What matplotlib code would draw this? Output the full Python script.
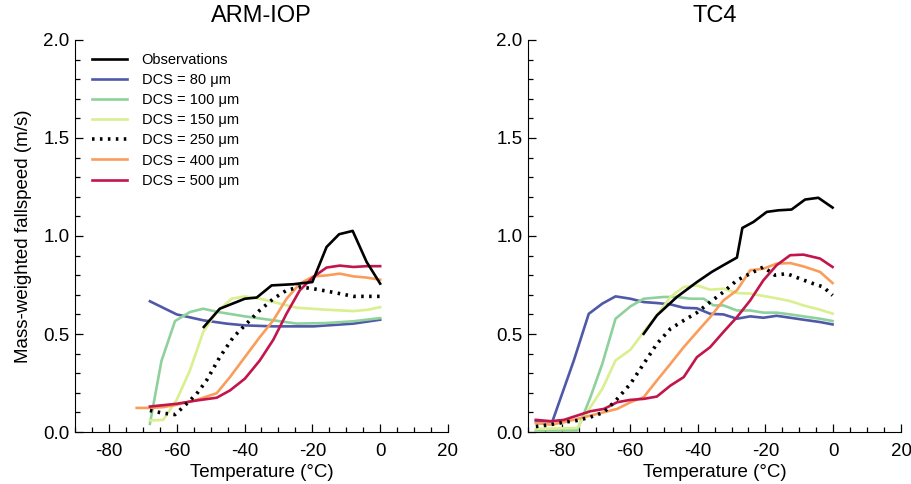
import numpy as np
import matplotlib
matplotlib.use("Agg")
import matplotlib.pyplot as plt
from matplotlib.ticker import MultipleLocator

plt.rcParams['font.family'] = ['Liberation Sans', 'DejaVu Sans']
plt.rcParams['axes.unicode_minus'] = False

# series labels and colours
LABELS = ["Observations", "DCS = 80 \u03bcm", "DCS = 100 \u03bcm", "DCS = 150 \u03bcm",
          "DCS = 250 \u03bcm", "DCS = 400 \u03bcm", "DCS = 500 \u03bcm"]
COLORS = ["#000000", "#5059a8", "#8fd19c", "#d9ef90", "#000000", "#fb9d5a", "#c2154b"]

# ---- ARM-IOP (left panel) ----
arm_obs_t = [-52.0, -47.3, -39.9, -36.4, -32.0, -25.6, -20.0, -15.8, -12.1, -8.1, -4.0, 0.0]
arm_obs_v = [0.536, 0.629, 0.680, 0.686, 0.748, 0.754, 0.765, 0.944, 1.009, 1.026, 0.868, 0.757]

arm_80_t = [-67.9, -60.0, -52.2, -45.3, -39.9, -31.5, -19.7, -7.9, 0.0]
arm_80_v = [0.667, 0.600, 0.570, 0.553, 0.544, 0.539, 0.539, 0.553, 0.573]

arm_100_t = [-67.9, -64.5, -60.5, -56.1, -52.2, -47.7, -39.9, -31.5, -24.6, -15.8, -7.9, 0.0]
arm_100_v = [0.042, 0.362, 0.566, 0.612, 0.629, 0.612, 0.590, 0.570, 0.553, 0.556, 0.565, 0.581]

arm_150_t = [-67.9, -64.0, -60.0, -56.1, -52.2, -48.2, -43.8, -39.9, -35.5, -31.5, -24.6,
             -15.8, -7.9, -3.5, 0.0]
arm_150_v = [0.059, 0.062, 0.164, 0.314, 0.510, 0.612, 0.680, 0.692, 0.680, 0.663, 0.634,
             0.624, 0.617, 0.624, 0.637]

arm_250_t = [-67.9, -64.0, -60.5, -58.1, -54.1, -51.2, -47.3, -43.3, -39.9, -35.5, -31.5,
             -27.6, -23.7, -19.7, -15.8, -11.9, -7.9, 0.0]
arm_250_v = [0.110, 0.096, 0.089, 0.127, 0.195, 0.263, 0.382, 0.484, 0.544, 0.621, 0.680,
             0.723, 0.740, 0.731, 0.719, 0.706, 0.692, 0.692]

arm_400_t = [-71.8, -67.9, -64.0, -60.0, -54.1, -48.2, -44.3, -39.9, -35.5, -31.5, -27.6,
             -23.7, -19.7, -15.8, -11.9, -7.9, -4.0, 0.0]
arm_400_v = [0.123, 0.123, 0.127, 0.139, 0.164, 0.198, 0.280, 0.382, 0.484, 0.570, 0.680,
             0.757, 0.794, 0.799, 0.808, 0.794, 0.788, 0.777]

arm_500_t = [-67.9, -60.0, -54.1, -48.2, -44.3, -39.9, -35.5, -31.5, -27.6, -23.7, -19.7,
             -15.8, -11.9, -7.9, -4.0, 0.0]
arm_500_v = [0.130, 0.144, 0.161, 0.175, 0.212, 0.272, 0.365, 0.471, 0.604, 0.723, 0.791,
             0.839, 0.849, 0.842, 0.846, 0.846]

# ---- TC4 (right panel) ----
tc4_obs_t = [-55.9, -52.0, -46.1, -40.2, -35.8, -32.4, -28.4, -26.8, -23.5, -19.6, -16.2,
             -12.3, -8.3, -4.4, -0.2]
tc4_obs_v = [0.501, 0.595, 0.689, 0.765, 0.817, 0.851, 0.890, 1.041, 1.072, 1.123, 1.131,
             1.135, 1.186, 1.195, 1.145]

tc4_80_t = [-87.7, -82.8, -76.5, -72.1, -68.1, -64.2, -59.8, -55.9, -52.0, -48.0, -44.1,
            -40.2, -36.3, -32.4, -28.4, -24.5, -20.6, -16.7, -12.7, -8.8, -3.9, -0.2]
tc4_80_v = [0.055, 0.055, 0.365, 0.603, 0.655, 0.692, 0.680, 0.663, 0.658, 0.651, 0.634,
            0.631, 0.603, 0.600, 0.578, 0.590, 0.583, 0.593, 0.583, 0.573, 0.561, 0.549]

tc4_100_t = [-87.7, -75.5, -71.6, -68.1, -64.2, -59.8, -55.9, -50.0, -46.1, -42.2, -38.2,
             -35.3, -32.4, -28.4, -24.5, -20.6, -16.7, -12.7, -8.8, -3.9, -0.2]
tc4_100_v = [0.008, 0.008, 0.178, 0.348, 0.578, 0.641, 0.680, 0.689, 0.689, 0.680, 0.680,
             0.646, 0.646, 0.620, 0.620, 0.609, 0.609, 0.600, 0.590, 0.578, 0.566]

tc4_150_t = [-87.7, -75.5, -71.6, -68.1, -64.2, -59.8, -55.9, -52.0, -48.0, -44.1, -40.2,
             -36.3, -32.4, -28.4, -24.5, -20.6, -16.7, -12.7, -8.8, -3.9, -0.2]
tc4_150_v = [0.016, 0.021, 0.127, 0.220, 0.365, 0.420, 0.510, 0.595, 0.689, 0.740, 0.748,
             0.726, 0.731, 0.709, 0.706, 0.694, 0.682, 0.668, 0.646, 0.624, 0.604]

tc4_250_t = [-87.7, -83.3, -79.4, -75.5, -71.6, -67.6, -63.7, -59.8, -55.9, -52.0, -48.0,
             -44.1, -40.2, -36.3, -32.4, -28.4, -24.5, -20.6, -17.2, -13.7, -9.8, -5.9,
             -2.9, -0.2]
tc4_250_v = [0.028, 0.038, 0.050, 0.059, 0.076, 0.101, 0.169, 0.246, 0.348, 0.450, 0.527,
             0.569, 0.609, 0.663, 0.714, 0.774, 0.808, 0.842, 0.800, 0.808, 0.782, 0.757,
             0.740, 0.697]

tc4_400_t = [-87.7, -83.3, -79.4, -75.5, -71.6, -67.6, -63.7, -59.8, -55.9, -52.0, -48.0,
             -44.1, -40.2, -36.3, -32.4, -28.4, -24.5, -20.6, -16.7, -12.7, -8.8, -3.9, -0.2]
tc4_400_v = [0.045, 0.038, 0.050, 0.067, 0.084, 0.101, 0.118, 0.152, 0.178, 0.263, 0.348,
             0.433, 0.510, 0.586, 0.671, 0.723, 0.825, 0.833, 0.859, 0.862, 0.845, 0.817,
             0.760]

tc4_500_t = [-87.7, -83.3, -79.4, -75.5, -71.6, -67.6, -63.7, -59.8, -55.9, -52.0, -48.0,
             -44.1, -40.2, -36.3, -32.4, -28.4, -24.5, -20.6, -16.7, -12.7, -8.8, -3.9, -0.2]
tc4_500_v = [0.062, 0.055, 0.062, 0.084, 0.106, 0.118, 0.152, 0.164, 0.169, 0.181, 0.237,
             0.280, 0.382, 0.433, 0.510, 0.586, 0.671, 0.774, 0.851, 0.902, 0.905, 0.885,
             0.842]

ARM = [(arm_obs_t, arm_obs_v), (arm_80_t, arm_80_v), (arm_100_t, arm_100_v),
       (arm_150_t, arm_150_v), (arm_250_t, arm_250_v), (arm_400_t, arm_400_v),
       (arm_500_t, arm_500_v)]
TC4 = [(tc4_obs_t, tc4_obs_v), (tc4_80_t, tc4_80_v), (tc4_100_t, tc4_100_v),
       (tc4_150_t, tc4_150_v), (tc4_250_t, tc4_250_v), (tc4_400_t, tc4_400_v),
       (tc4_500_t, tc4_500_v)]

# draw order: coloured curves first, obs and dotted on top like the original
ORDER = [1, 2, 3, 5, 6, 4, 0]


def draw_panel(ax, series, title):
    handles = {}
    for i in ORDER:
        t, v = series[i]
        if i == 4:
            ln, = ax.plot(t, v, color=COLORS[i], lw=2.6, linestyle=(0, (0.7, 1.5)),
                          label=LABELS[i])
        else:
            ln, = ax.plot(t, v, color=COLORS[i], lw=1.9, label=LABELS[i])
        handles[i] = ln

    ax.set_xlim(-90, 20)
    ax.set_ylim(0, 2.0)
    ax.xaxis.set_major_locator(MultipleLocator(20))
    ax.xaxis.set_minor_locator(MultipleLocator(5))
    ax.yaxis.set_major_locator(MultipleLocator(0.5))
    ax.yaxis.set_minor_locator(MultipleLocator(0.1))
    ax.yaxis.set_major_formatter(matplotlib.ticker.FormatStrFormatter('%.1f'))
    ax.spines['top'].set_visible(False)
    ax.spines['right'].set_visible(False)
    ax.tick_params(which='both', direction='in', labelsize=13.5)
    ax.tick_params(which='major', length=6, width=0.9)
    ax.tick_params(which='minor', length=3.5, width=0.9)
    ax.tick_params(axis='x', pad=8)
    ax.tick_params(axis='y', pad=4)
    ax.set_xlabel('Temperature (\u00b0C)', fontsize=13.5, labelpad=3)
    ax.set_title(title, fontsize=17, pad=13)
    return handles


fig = plt.figure(figsize=(9.12, 4.84), dpi=100)
ax1 = fig.add_axes([0.0822, 0.1074, 0.409, 0.810])
ax2 = fig.add_axes([0.579, 0.1074, 0.409, 0.810])

h = draw_panel(ax1, ARM, 'ARM-IOP')
draw_panel(ax2, TC4, 'TC4')
ax1.set_ylabel('Mass-weighted fallspeed (m/s)', fontsize=13.5, labelpad=8)

ax1.legend([h[i] for i in range(7)], LABELS, loc='upper left',
           bbox_to_anchor=(0.046, 0.967), frameon=False, fontsize=10.5,
           handlelength=2.4, handletextpad=1.0, labelspacing=0.42, borderpad=0,
           borderaxespad=0)

fig.savefig('out.png', dpi=100)
